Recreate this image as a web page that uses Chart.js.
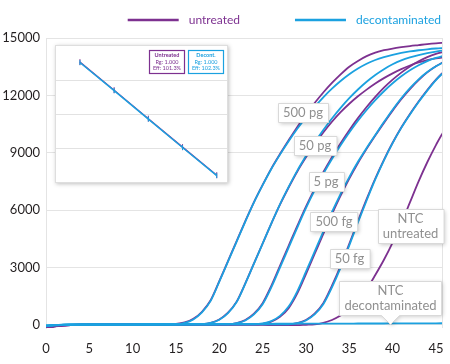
<!DOCTYPE html>
<html>
<head>
<meta charset="utf-8">
<script src="https://cdn.jsdelivr.net/npm/chart.js@4.4.0/dist/chart.umd.min.js"></script>
<style>
  html, body { margin: 0; padding: 0; background: #fff; }
  #wrap { position: relative; width: 450px; height: 364px; }
  #inset { position: absolute; left: 55px; top: 45px; width: 173px; height: 138px; background: #fff;
           border: 1px solid #dedede; box-sizing: border-box; box-shadow: 1px 1px 4px rgba(0,0,0,0.25); }
</style>
</head>
<body>
<div id="wrap">
  <canvas id="myChart" width="450" height="364"></canvas>
  <div id="inset"><canvas id="insetChart" width="171" height="136"></canvas></div>
</div>
<script>
  // amplification curves, one value per cycle (0..46)
  var cycles = [0,1,2,3,4,5,6,7,8,9,10,11,12,13,14,15,16,17,18,19,20,21,22,23,24,25,26,27,28,29,30,31,32,33,34,35,36,37,38,39,40,41,42,43,44,45,46];
  var xTicks = [0,5,10,15,20,25,30,35,40,45];
  var yTicks = [0,3000,6000,9000,12000,15000];

  var decont500pg = [-80,-30,-10,0,5,5,5,10,10,10,10,15,15,20,25,30,100,280,650,1250,2250,3300,4350,5400,6400,7300,8150,8900,9600,10250,10850,11400,11900,12350,12750,13100,13400,13650,13850,14000,14120,14220,14300,14360,14410,14450,14480];
  var untr500pg = [-200,-90,-40,-20,-10,0,0,5,5,5,10,10,15,20,30,45,120,310,680,1280,2280,3330,4380,5420,6420,7320,8170,8930,9650,10350,11000,11600,12150,12650,13100,13500,13800,14050,14230,14360,14450,14520,14580,14630,14680,14720,14750];
  var decont50pg = [-40,-10,0,5,5,5,10,10,10,10,10,10,10,15,15,20,20,25,30,93,262,613,1190,2150,3195,4245,5295,6300,7210,8065,8825,9530,10185,10790,11345,11850,12305,12710,13065,13370,13625,13830,13985,14108,14210,14292,14354];
  var untr50pg = [-180,-80,-30,-10,0,0,5,5,5,5,10,10,10,10,15,15,20,20,35,100,275,630,1210,2170,3210,4250,5290,6280,7180,8020,8760,9440,10060,10620,11120,11560,11950,12300,12620,12900,13150,13370,13560,13720,13840,13930,13990];
  var decont5pg = [-60,-20,-5,0,5,5,5,5,10,10,10,10,10,10,10,15,15,15,20,20,20,25,79,226,539,1070,1950,2985,4035,5085,6100,7030,7895,8675,9390,10055,10670,11235,11750,12215,12630,12995,13310,13575,13790,13955,14084];
  var untr5pg = [-150,-70,-30,-10,0,0,0,5,5,5,5,10,10,10,10,10,15,15,15,20,20,30,90,250,580,1130,2030,3080,4130,5170,6180,7110,7980,8770,9500,10180,10810,11390,11920,12400,12820,13190,13510,13780,14000,14170,14290];
  var decont500fg = [-50,-15,0,5,5,5,5,10,10,10,10,10,10,10,10,10,15,15,15,15,15,15,15,15,20,65,190,465,950,1750,2775,3825,4875,5900,6850,7725,8525,9250,9925,10600,11250,11850,12380,12840,13220,13520,13760];
  var untr500fg = [-170,-70,-30,-10,0,0,0,5,5,5,5,5,10,10,10,10,10,10,15,15,15,15,15,15,15,50,160,410,870,1640,2650,3700,4750,5780,6750,7640,8460,9200,9900,10560,11200,11800,12330,12800,13200,13520,13780];
  var decont50fg = [-70,-25,-5,0,5,5,5,5,5,10,10,10,10,10,10,10,10,10,10,10,15,15,15,15,15,15,15,20,20,79,226,539,1070,1950,2985,4150,5350,6500,7600,8600,9500,10300,11000,11650,12250,12800,13250];
  var untr50fg = [-190,-80,-30,-10,0,0,0,0,5,5,5,5,5,5,10,10,10,10,10,10,10,10,15,15,15,15,15,15,25,90,250,580,1130,2040,3080,4230,5420,6570,7650,8630,9520,10320,11030,11680,12280,12820,13280];
  var decontNTC = [-40,-10,10,20,25,30,30,30,35,35,35,40,40,40,40,40,45,45,45,45,45,50,50,50,50,50,50,55,55,55,55,60,60,60,60,60,65,65,65,65,70,70,70,75,75,75,80];
  var untrNTC = [-150,-70,-30,-15,-10,-5,-5,0,0,0,0,0,0,0,0,0,0,0,0,0,0,0,0,0,0,-10,-15,-20,-20,-20,0,20,100,250,480,800,1250,1850,2600,3400,4300,5300,6400,7500,8500,9400,10200];

  // standard curve for the inset
  var logQty = [-1.3, -0.3, 0.7, 1.7, 2.7];
  var ctUntreated = [34.1, 30.8, 27.45, 24.1, 20.8];
  var ctDecont = [34.05, 30.75, 27.4, 24.05, 20.75];

  // callout labels (cycle, fluorescence)
  var calloutText = ['500 pg', '50 pg', '5 pg', '500 fg', '50 fg', 'NTC\nuntreated', 'NTC\ndecontaminated'];
  var calloutCycle = [29.66, 31.04, 32.31, 33.24, 35.03, 42.07, 39.76];
  var calloutValue = [11108, 9357, 7503, 5413, 3480, 5152, 1390];

  var purple = '#7d3190';
  var blue = '#1ba1e0';

  function series(arr) {
    return arr.map(function (v, i) { return { x: cycles[i], y: v }; });
  }

  var blueSets = [decont500pg, decont50pg, decont5pg, decont500fg, decont50fg, decontNTC];
  var purpleSets = [untr500pg, untr50pg, untr5pg, untr500fg, untr50fg, untrNTC];
  var datasets = [];
  blueSets.forEach(function (s) {
    datasets.push({ label: 'decontaminated', data: series(s), borderColor: blue, borderWidth: 1.8,
                    pointRadius: 0, cubicInterpolationMode: 'monotone', fill: false });
  });
  purpleSets.forEach(function (s) {
    datasets.push({ label: 'untreated', data: series(s), borderColor: purple, borderWidth: 1.8,
                    pointRadius: 0, cubicInterpolationMode: 'monotone', fill: false });
  });

  var framePlugin = {
    id: 'frame',
    beforeDatasetsDraw: function (chart) {
      var ctx = chart.ctx, a = chart.chartArea;
      ctx.save();
      ctx.strokeStyle = '#e4e4e4';
      ctx.lineWidth = 1;
      ctx.beginPath();
      ctx.moveTo(Math.round(a.right) + 0.5, a.top);
      ctx.lineTo(Math.round(a.right) + 0.5, a.bottom);
      ctx.stroke();
      ctx.restore();
    }
  };

  var calloutPlugin = {
    id: 'callouts',
    afterDatasetsDraw: function (chart) {
      var ctx = chart.ctx, x = chart.scales.x, y = chart.scales.y;
      ctx.save();
      ctx.font = '13px Lato';
      calloutText.forEach(function (text, k) {
        var lines = text.split('\n');
        var w = Math.max.apply(null, lines.map(function (l) { return ctx.measureText(l).width; })) + 10;
        var lh = 15;
        var h = lines.length * lh + 4;
        var cx = x.getPixelForValue(calloutCycle[k]);
        var cy = y.getPixelForValue(calloutValue[k]);
        var l = Math.round(cx - w / 2) + 0.5, t = Math.round(cy - h / 2) + 0.5;
        ctx.beginPath();
        ctx.moveTo(l, t);
        ctx.lineTo(l + w, t);
        ctx.lineTo(l + w, t + h);
        if (k === calloutText.length - 1) {
          ctx.lineTo(cx + 9, t + h);
          ctx.lineTo(cx, t + h + 9);
          ctx.lineTo(cx - 9, t + h);
        }
        ctx.lineTo(l, t + h);
        ctx.closePath();
        ctx.shadowColor = 'rgba(0,0,0,0.22)';
        ctx.shadowBlur = 4;
        ctx.shadowOffsetX = 1;
        ctx.shadowOffsetY = 1;
        ctx.fillStyle = '#fff';
        ctx.fill();
        ctx.shadowColor = 'transparent';
        ctx.strokeStyle = '#d9d9d9';
        ctx.lineWidth = 1;
        ctx.stroke();
        ctx.fillStyle = '#909090';
        ctx.textAlign = 'center';
        ctx.textBaseline = 'middle';
        lines.forEach(function (ln, i) { ctx.fillText(ln, cx, t + 2 + lh * i + lh / 2); });
      });
      ctx.restore();
    }
  };

  var legendPlugin = {
    id: 'lineLegend',
    afterDraw: function (chart) {
      var ctx = chart.ctx;
      var items = [{ text: 'untreated', color: purple }, { text: 'decontaminated', color: blue }];
      ctx.save();
      ctx.font = '12px Lato';
      ctx.textBaseline = 'middle';
      var xr = chart.chartArea.right - 1;
      var ym = 20;
      for (var i = items.length - 1; i >= 0; i--) {
        var tw = ctx.measureText(items[i].text).width;
        var tx = xr - tw;
        ctx.fillStyle = items[i].color;
        ctx.fillText(items[i].text, tx, ym);
        ctx.strokeStyle = items[i].color;
        ctx.lineWidth = 2.5;
        ctx.beginPath();
        ctx.moveTo(tx - 61, ym);
        ctx.lineTo(tx - 10, ym);
        ctx.stroke();
        xr = tx - 61 - 55;
      }
      ctx.restore();
    }
  };

  var ctx = document.getElementById('myChart').getContext('2d');
  var myChart = new Chart(ctx, {
    type: 'line',
    data: { datasets: datasets },
    options: {
      responsive: false,
      animation: false,
      layout: { padding: { left: 0, right: 8, top: 38, bottom: 0 } },
      plugins: { legend: { display: false }, tooltip: { enabled: false } },
      scales: {
        x: {
          type: 'linear', min: 0, max: 45.7,
          afterBuildTicks: function (s) { s.ticks = xTicks.map(function (v) { return { value: v }; }); },
          afterFit: function (s) { s.height = 36; },
          grid: { display: false },
          border: { display: false },
          ticks: { padding: 5, color: '#231f20', font: { family: 'Lato', size: 13 },
                   callback: function (v) { return String(v); } }
        },
        y: {
          min: -170, max: 15000,
          afterBuildTicks: function (s) { s.ticks = yTicks.map(function (v) { return { value: v }; }); },
          afterFit: function (s) { s.width = 46; },
          grid: { color: '#e4e4e4', drawTicks: false },
          border: { color: '#e4e4e4' },
          ticks: { padding: 6, color: '#231f20', font: { family: 'Lato', size: 13 },
                   callback: function (v) { return String(v); } }
        }
      }
    },
    plugins: [framePlugin, calloutPlugin, legendPlugin]
  });

  var insetBoxes = {
    id: 'insetBoxes',
    afterDraw: function (chart) {
      var c = chart.ctx;
      var boxes = [
        { lines: ['Untreated', 'Rg: 1.000', 'Eff: 101.3%'], color: purple },
        { lines: ['Decont.', 'Rg: 1.000', 'Eff: 102.3%'], color: blue }
      ];
      var bw = 35, bh = 23, gap = 4, right = chart.width - 4, top = 4.5;
      c.save();
      c.textAlign = 'center';
      c.textBaseline = 'middle';
      boxes.forEach(function (b, i) {
        var l = Math.round(right - (boxes.length - i) * bw - (boxes.length - 1 - i) * gap) + 0.5;
        c.fillStyle = '#fff';
        c.fillRect(l, top, bw, bh);
        c.strokeStyle = b.color;
        c.lineWidth = 1.2;
        c.strokeRect(l, top, bw, bh);
        c.fillStyle = b.color;
        b.lines.forEach(function (ln, j) {
          c.font = (j === 0 ? 'bold ' : '') + '5.5px Lato';
          c.fillText(ln, l + bw / 2, top + 5 + j * 6.5);
        });
      });
      c.restore();
    }
  };

  new Chart(document.getElementById('insetChart').getContext('2d'), {
    type: 'line',
    data: {
      datasets: [
        { data: logQty.map(function (q, i) { return { x: q, y: ctDecont[i] }; }), borderColor: blue, borderWidth: 1.4,
          pointStyle: 'line', rotation: 90, pointRadius: 2.5, pointBorderWidth: 1, pointBorderColor: blue },
        { data: logQty.map(function (q, i) { return { x: q, y: ctUntreated[i] }; }), borderColor: purple, borderWidth: 1.4,
          pointStyle: 'line', rotation: 90, pointRadius: 3, pointBorderWidth: 1, pointBorderColor: purple }
      ]
    },
    options: {
      responsive: false,
      animation: false,
      layout: { padding: 0, autoPadding: false },
      plugins: { legend: { display: false }, tooltip: { enabled: false } },
      scales: {
        x: { type: 'linear', min: -2, max: 3, display: false },
        y: {
          min: 20, max: 36,
          ticks: { display: false, stepSize: 4 },
          border: { display: false },
          grid: { drawTicks: false, color: function (c) { return (c.tick && (c.tick.value === 20 || c.tick.value === 36)) ? 'rgba(0,0,0,0)' : '#e2e2e2'; } }
        }
      }
    },
    plugins: [insetBoxes]
  });
</script>
</body>
</html>
